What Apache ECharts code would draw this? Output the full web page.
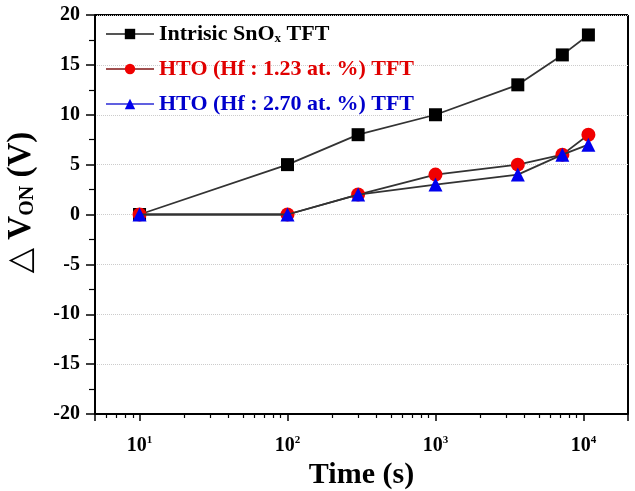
<!DOCTYPE html>
<html>
<head>
<meta charset="utf-8">
<script src="https://cdn.jsdelivr.net/npm/echarts@6/dist/echarts.min.js"></script>
<style>
  html, body { margin: 0; padding: 0; background: #fff; }
  #chart { width: 635px; height: 491px; }
</style>
</head>
<body>
<div id="chart"></div>
<script>
// stress time (s)
const times = [10, 100, 300, 1000, 3600, 7200, 10800];
// delta V_ON (V)
const intrinsic = [0, 5, 8, 10, 13, 16, 18];
const hto123 = [0, 0, 2, 4, 5, 6, 8];
const hto270 = [0, 0, 2, 3, 4, 6, 7];
const seriesNames = ['Intrisic SnOx TFT', 'HTO (Hf : 1.23 at. %) TFT', 'HTO (Hf : 2.70 at. %) TFT'];
const yTicks = [-20, -15, -10, -5, 0, 5, 10, 15, 20];

const serif = '"Liberation Serif", "DejaVu Serif", serif';

const pairs = vals => times.map((t, i) => [t, vals[i]]);

const chart = echarts.init(document.getElementById('chart'));

const lineSty = { color: '#333', width: 1.8 };
const legendText = color => ({ color: color, fontFamily: serif, fontWeight: 'bold', fontSize: 22 });

chart.setOption({
  animation: false,
  grid: { left: 95, right: 7, top: 15, bottom: 77, outerBoundsMode: 'none', containLabel: false },
  legend: {
    orient: 'vertical',
    left: 105,
    top: 23,
    padding: 0,
    itemWidth: 48,
    itemHeight: 13,
    itemGap: 13,
    textStyle: { fontFamily: serif, fontWeight: 'bold', fontSize: 22 },
    formatter: function (name) {
      if (name === seriesNames[0]) return 'Intrisic SnO{sub|x} TFT';
      return name;
    },
    data: [
      {
        name: seriesNames[0],
        textStyle: Object.assign(legendText('#000'), {
          rich: { sub: { fontSize: 13, fontFamily: serif, fontWeight: 'bold', padding: [9, 0, 0, 0], color: '#000' } }
        }),
        lineStyle: { color: '#555' }
      },
      { name: seriesNames[1], textStyle: legendText('#e00000'), lineStyle: { color: '#a05050' } },
      { name: seriesNames[2], textStyle: legendText('#0000cc'), lineStyle: { color: '#6060e0' } }
    ]
  },
  xAxis: {
    type: 'log',
    logBase: 10,
    min: 5,
    max: 20000,
    name: 'Time (s)',
    nameLocation: 'middle',
    nameGap: 45,
    nameTextStyle: { fontFamily: serif, fontWeight: 'bold', fontSize: 30, color: '#000' },
    axisLine: { show: true, onZero: false, lineStyle: { color: '#000', width: 2 } },
    axisTick: { show: true, length: 7, lineStyle: { color: '#000', width: 1.5 } },
    minorTick: { show: true, splitNumber: 9, length: 4, lineStyle: { color: '#000', width: 1.2 } },
    splitLine: { show: false },
    axisLabel: {
      margin: 21,
      color: '#000',
      fontFamily: serif,
      fontWeight: 'bold',
      fontSize: 20,
      formatter: function (v) {
        const e = Math.log10(v);
        if (Math.abs(e - Math.round(e)) < 1e-6) return '10{s|' + Math.round(e) + '}';
        return '';
      },
      rich: { s: { fontSize: 11, fontFamily: serif, fontWeight: 'bold', padding: [0, 0, 10, 0], color: '#000' } }
    }
  },
  yAxis: {
    type: 'value',
    min: yTicks[0],
    max: yTicks[yTicks.length - 1],
    interval: 5,
    name: '△ V{sub|ON} (V)',
    nameLocation: 'middle',
    nameGap: 57,
    nameRotate: 90,
    nameTextStyle: {
      fontFamily: serif, fontWeight: 'bold', fontSize: 33, color: '#000',
      padding: [0, 0, 0, 24],
      rich: { sub: { fontFamily: serif, fontWeight: 'bold', fontSize: 20, padding: [14, 0, 0, 0], color: '#000' } }
    },
    axisLine: { show: true, onZero: false, lineStyle: { color: '#000', width: 2 } },
    axisTick: { show: true, length: 9, lineStyle: { color: '#000', width: 1.5 } },
    minorTick: { show: true, splitNumber: 2, length: 6, lineStyle: { color: '#000', width: 1.2 } },
    splitLine: { show: true, lineStyle: { color: '#ccc', type: 'dotted', width: 1 } },
    axisLabel: { margin: 15, color: '#000', fontFamily: serif, fontWeight: 'bold', fontSize: 20 }
  },
  series: [
    {
      name: seriesNames[0], type: 'line', data: pairs(intrinsic),
      symbol: 'rect', symbolSize: 13,
      itemStyle: { color: '#000' }, lineStyle: lineSty, z: 2
    },
    {
      name: seriesNames[1], type: 'line', data: pairs(hto123),
      symbol: 'circle', symbolSize: 14,
      itemStyle: { color: '#f00000' }, lineStyle: lineSty, z: 3
    },
    {
      name: seriesNames[2], type: 'line', data: pairs(hto270),
      symbol: 'triangle', symbolSize: 14,
      itemStyle: { color: '#0000ee' }, lineStyle: lineSty, z: 4
    }
  ],
  graphic: [
    { type: 'line', shape: { x1: 95, y1: 15, x2: 628, y2: 15 }, style: { stroke: '#000', lineWidth: 2 } },
    { type: 'line', shape: { x1: 628, y1: 15, x2: 628, y2: 414 }, style: { stroke: '#000', lineWidth: 2 } }
  ]
});
</script>
</body>
</html>
